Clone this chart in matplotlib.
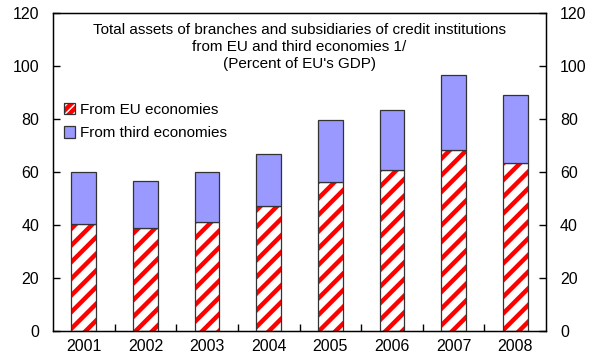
import matplotlib
matplotlib.use("Agg")
import matplotlib.pyplot as plt
from matplotlib.legend_handler import HandlerBase
import numpy as np

plt.rcParams['font.family'] = ['Liberation Sans', 'DejaVu Sans']
plt.rcParams['hatch.linewidth'] = 3.2

years = ["2001", "2002", "2003", "2004", "2005", "2006", "2007", "2008"]
eu_share = [40.4, 38.9, 41.1, 47.2, 56.2, 60.8, 68.3, 63.4]
third_share = [19.6, 17.7, 18.9, 19.6, 23.4, 22.6, 28.3, 25.6]

fig = plt.figure(figsize=(5.93, 3.58), dpi=100)
ax = fig.add_axes([53 / 593, 27 / 358, 493 / 593, 318 / 358])

x = np.arange(len(years))
w = 0.4
# red stripes on white for the EU part, then a dark outline on top
ax.bar(x, eu_share, w, color='white', edgecolor='#FF0000', linewidth=0,
       hatch='//', zorder=2)
ax.bar(x, eu_share, w, fill=False, edgecolor='#333333', linewidth=0.9, zorder=3)
ax.bar(x, third_share, w, bottom=eu_share, color='#9999FF', edgecolor='#333333',
       linewidth=0.9, zorder=3)

ax.set_xlim(-0.5, len(years) - 0.5)
ax.set_ylim(0, 120)
ax.set_yticks(range(0, 121, 20))
ax.set_xticks(x)
ax.set_xticklabels(years)
ax.set_xticks(np.arange(0.5, len(years) - 1, 1.0), minor=True)
ax.tick_params(axis='x', which='major', length=0, pad=6, labelsize=11.5)
ax.tick_params(axis='x', which='minor', direction='in', length=5, width=1)
ax.tick_params(axis='y', direction='in', length=5, width=1, labelsize=11.5, pad=10)
for s in ax.spines.values():
    s.set_linewidth(1)
    s.set_color('black')

ax2 = ax.twinx()
ax2.set_ylim(0, 120)
ax2.set_yticks(range(0, 121, 20))
ax2.tick_params(axis='y', direction='in', length=5, width=1, labelsize=11.5, pad=10)

ax.text(0.5, 0.968,
        "Total assets of branches and subsidiaries of credit institutions\n"
        "from EU and third economies 1/\n(Percent of EU's GDP)",
        transform=ax.transAxes, ha='center', va='top', fontsize=11, linespacing=1.25)


class SquareHandler(HandlerBase):
    def __init__(self, face, hatch=None):
        super().__init__()
        self.face = face
        self.hatch = hatch

    def create_artists(self, legend, orig_handle, xdescent, ydescent, width,
                       height, fontsize, trans):
        s = min(width, height)
        y0 = (height - s) / 2 - ydescent
        artists = []
        if self.hatch:
            artists.append(plt.Rectangle((-xdescent, y0), s, s, facecolor='white',
                                         edgecolor='#FF0000', hatch=self.hatch,
                                         linewidth=0, transform=trans))
            artists.append(plt.Rectangle((-xdescent, y0), s, s, fill=False,
                                         edgecolor='#333333', linewidth=0.9,
                                         transform=trans))
        else:
            artists.append(plt.Rectangle((-xdescent, y0), s, s, facecolor=self.face,
                                         edgecolor='#333333', linewidth=0.9,
                                         transform=trans))
        return artists


h1 = plt.Rectangle((0, 0), 1, 1)
h2 = plt.Rectangle((0, 0), 1, 1)
ax.legend([h1, h2], ['From EU economies', 'From third economies'],
          handler_map={h1: SquareHandler('white', hatch='////'),
                       h2: SquareHandler('#9999FF')},
          loc='upper left', bbox_to_anchor=(0.0, 0.75), frameon=False,
          fontsize=11, handlelength=0.75, handleheight=0.75,
          handletextpad=0.35, labelspacing=0.6, borderaxespad=0.3)

fig.savefig("out.png", dpi=100)
